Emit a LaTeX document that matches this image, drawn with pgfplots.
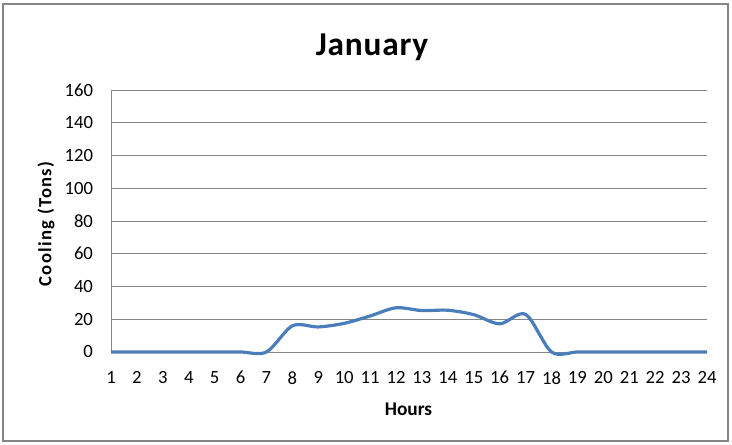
\documentclass[border=0pt]{standalone}
\usepackage{pgfplots}
\pgfplotsset{compat=1.18}
\usepackage{fontspec}
\setmainfont{Carlito}
\definecolor{lineblue}{HTML}{4A7EBB}
\definecolor{gridgray}{HTML}{868686}
\begin{document}
\begin{tikzpicture}[x=0.75pt,y=0.75pt]
\path[use as bounding box] (0,0) rectangle (732,445);
\draw[gridgray, line width=1.2pt] (3,4) rectangle (728,441);
\node[font=\fontsize{25}{25}\selectfont\bfseries\addfontfeature{LetterSpace=2.5}] at (372,398) {January};
\node[font=\fontsize{14}{14}\selectfont\bfseries\addfontfeature{LetterSpace=7}, rotate=90] at (46,221) {Cooling (Tons)};
\node[font=\fontsize{14.5}{14.5}\selectfont\bfseries] at (408.5,36) {Hours};
\begin{axis}[
  at={(83.25pt,69.75pt)}, anchor=south west,
  scale only axis, width=447pt, height=196.5pt,
  xmin=1, xmax=24, ymin=0, ymax=160,
  xtick={1,...,24}, ytick={0,20,...,160},
  axis lines*=left,
  axis line style={gridgray, line width=0.6pt},
  ymajorgrids, grid style={gridgray, line width=0.6pt},
  major tick length=0pt,
  clip=false,
  /pgf/number format/assume math mode=true,
  tick label style={font=\fontsize{14}{14}\selectfont},
  xticklabel style={yshift=-11pt},
  yticklabel style={xshift=-10pt},
]
\addplot[lineblue, line width=2.4pt, smooth, tension=0.5] coordinates {
(1,0) (2,0) (3,0) (4,0) (5,0) (6,0) (7,0) (8,16) (9,15.3) (10,17.5) (11,22) (12,27) (13,25.3) (14,25.5) (15,22.8) (16,17.2) (17,23) (18,0) (19,0) (20,0) (21,0) (22,0) (23,0) (24,0)
};
\end{axis}
\end{tikzpicture}
\end{document}
